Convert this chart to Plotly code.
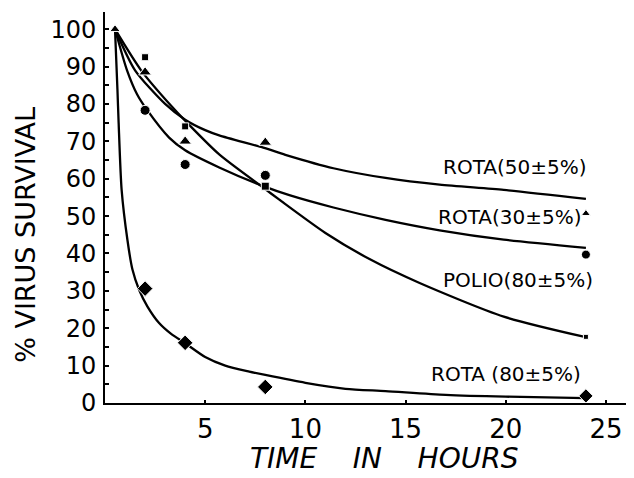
import plotly.graph_objects as go

# ---- data ----
# measured points (time in hours, % survival)
pt_hours = [2, 4, 8, 24]
polio_pts = [92.5, 74.0, 58.0, 17.7]        # squares
rota50_pts = [88.5, 70.0, 69.7, 50.7]       # triangles
rota30_pts = [78.3, 63.8, 60.9, 39.7]       # circles
rota80_pts = [30.6, 16.1, 4.3, 1.9]         # diamonds
start_hour = [0.5]
start_val = [100]

# fitted curves
rota50_t = [0.5, 1.5, 3.0, 4.0, 5.0, 5.7, 7.9, 9.0, 11.4, 14.0, 16.7, 19.9, 24.0]
rota50_v = [100, 89.0, 80.0, 75.8, 73.0, 71.6, 68.3, 66.4, 62.8, 60.2, 58.4, 57.0, 54.6]

rota30_t = [0.5, 1.1, 1.6, 2.1, 3.2, 4.0, 5.7, 7.9, 9.2, 11.4, 14.0, 16.7, 19.9, 24.0]
rota30_v = [100, 89.0, 82.6, 78.4, 71.0, 67.6, 63.0, 58.0, 55.6, 52.3, 49.0, 46.2, 43.7, 41.5]

polio_t = [0.5, 1.8, 3.3, 4.0, 5.7, 7.9, 8.7, 11.0, 13.2, 15.7, 19.9, 24.0]
polio_v = [100, 89.0, 79.5, 75.5, 66.5, 57.6, 54.4, 45.5, 38.5, 32.1, 23.1, 17.6]

rota80_t = [0.5, 0.62, 0.68, 0.83, 1.12, 1.37, 1.7, 2.12, 2.7, 3.3, 4.0, 5.0, 6.0,
            7.2, 8.0, 10.0, 12.0, 14.0, 17.0, 20.0, 24.0]
rota80_v = [100, 84, 75, 57, 43.6, 35.7, 30.3, 25.8, 21.4, 18.5, 16.0, 12.3, 10.0,
            8.4, 7.5, 5.4, 3.8, 3.2, 2.2, 1.7, 1.3]

x_ticks = [5, 10, 15, 20, 25]
y_ticks = [0, 10, 20, 30, 40, 50, 60, 70, 80, 90, 100]

labels = ["ROTA(50±5%)", "ROTA(30±5%)", "POLIO(80±5%)", "ROTA (80±5%)"]
label_x = [20.45, 20.2, 20.6, 20.0]
label_y = [63.2, 49.8, 32.9, 7.8]

FONT = "DejaVu Sans"
BLACK = "#000000"

fig = go.Figure()
line_style = dict(color=BLACK, width=2.3, shape="spline", smoothing=0.7)
for t, v in [(rota50_t, rota50_v), (rota30_t, rota30_v), (polio_t, polio_v), (rota80_t, rota80_v)]:
    fig.add_trace(go.Scatter(x=t, y=v, mode="lines", line=line_style,
                             hoverinfo="skip", showlegend=False))

fig.add_trace(go.Scatter(x=pt_hours, y=polio_pts, mode="markers",
                         marker=dict(symbol="square", size=[7, 7, 8, 5], color=BLACK, opacity=1),
                         showlegend=False))
fig.add_trace(go.Scatter(x=start_hour + pt_hours, y=start_val + rota50_pts, mode="markers",
                         marker=dict(symbol="triangle-up", size=[9, 11, 11, 11, 8], color=BLACK,
                                     opacity=1),
                         showlegend=False))
fig.add_trace(go.Scatter(x=pt_hours, y=rota30_pts, mode="markers",
                         marker=dict(symbol="circle", size=[10, 10, 10, 9], color=BLACK, opacity=1),
                         showlegend=False))
fig.add_trace(go.Scatter(x=pt_hours, y=rota80_pts, mode="markers",
                         marker=dict(symbol="diamond", size=[12, 12, 12, 11], color=BLACK, opacity=1),
                         showlegend=False))

for txt, lx, ly in zip(labels, label_x, label_y):
    fig.add_annotation(x=lx, y=ly, text=txt, showarrow=False,
                       font=dict(family=FONT, size=20, color=BLACK))

# axis titles
fig.add_annotation(x=0.529, y=-0.143, xref="paper", yref="paper",
                   text="TIME\u00a0\u00a0\u00a0\u00a0IN\u00a0\u00a0\u00a0\u00a0HOURS",
                   showarrow=False, xanchor="center", yanchor="middle",
                   font=dict(family=FONT, size=28, color=BLACK, style="italic"))
fig.add_annotation(x=-0.15, y=0.43, xref="paper", yref="paper",
                   text="% VIRUS SURVIVAL", textangle=-90,
                   showarrow=False, xanchor="center", yanchor="middle",
                   font=dict(family=FONT, size=27, color=BLACK))

# page body has an 8px default margin, so the figure is sized to fit the window
fig.update_layout(
    width=626, height=470,
    margin=dict(l=97, r=2, t=4, b=75),
    paper_bgcolor="white", plot_bgcolor="white",
    font=dict(family=FONT, color=BLACK),
    xaxis=dict(range=[0, 26.3], tickvals=x_ticks, ticktext=[str(v) for v in x_ticks],
               showgrid=False, zeroline=False, showline=True, linecolor=BLACK, linewidth=2,
               ticks="inside", ticklen=3, tickwidth=2, tickcolor=BLACK,
               tickfont=dict(family=FONT, size=26, color=BLACK), ticklabelstandoff=2),
    yaxis=dict(range=[0, 104.6], tickvals=y_ticks, ticktext=[str(v) for v in y_ticks],
               showgrid=False, zeroline=False, showline=True, linecolor=BLACK, linewidth=2,
               ticks="inside", ticklen=4, tickwidth=2, tickcolor=BLACK,
               minor=dict(dtick=5, ticks="inside", ticklen=4, tickwidth=2, tickcolor=BLACK),
               tickfont=dict(family=FONT, size=24, color=BLACK), ticklabelstandoff=2),
)

fig.write_html("out.html")
